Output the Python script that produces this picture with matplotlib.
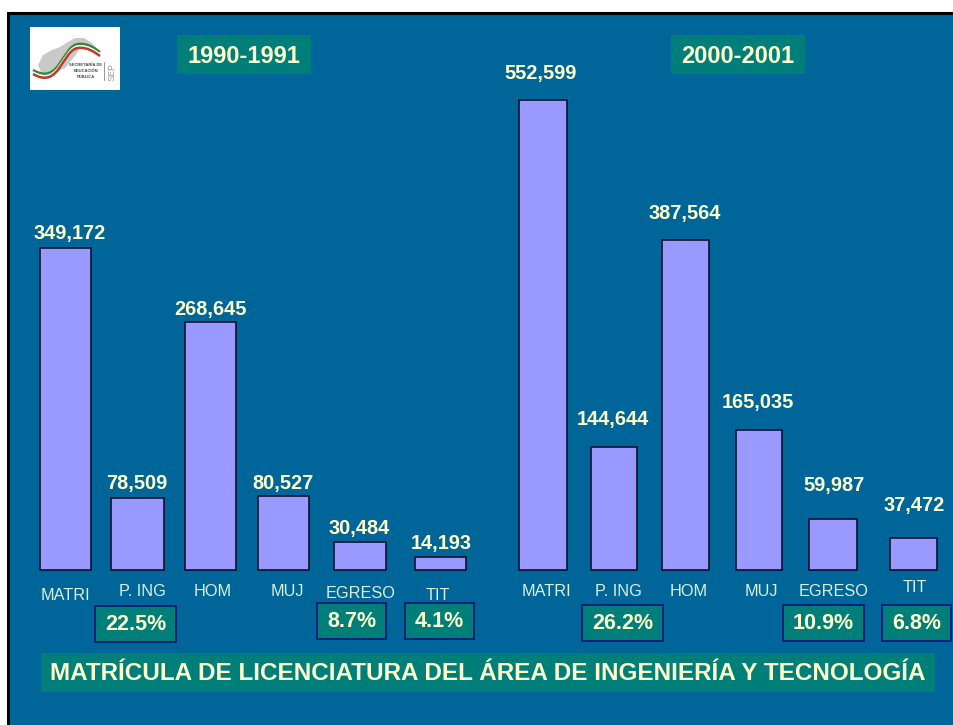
import matplotlib
matplotlib.use("Agg")
import matplotlib.pyplot as plt
from matplotlib.patches import Rectangle, Polygon
from matplotlib.path import Path
from matplotlib.patches import PathPatch

plt.rcParams['font.family'] = ['Liberation Sans', 'DejaVu Sans']

W, H = 954, 725
BLUE = '#006699'
TEAL = '#007E7A'
CREAM = '#FFFFCC'
BAR = '#9999FF'
NAVY = '#00207A'

categories = ['MATRI', 'P. ING', 'HOM', 'MUJ', 'EGRESO', 'TIT']
values_1990 = [349172, 78509, 268645, 80527, 30484, 14193]
values_2000 = [552599, 144644, 387564, 165035, 59987, 37472]
shares_1990 = ['22.5%', '8.7%', '4.1%']
shares_2000 = ['26.2%', '10.9%', '6.8%']
period_1990 = '1990-1991'
period_2000 = '2000-2001'
title = 'MATRÍCULA DE LICENCIATURA DEL ÁREA DE INGENIERÍA Y TECNOLOGÍA'

# layout, in reference pixels
left_edges_l = [40, 111, 185, 258, 334, 415]
right_edges_l = [91, 164, 236, 309, 386, 466]
left_edges_r = [519, 591, 662, 736, 809, 890]
right_edges_r = [567, 637, 709, 782, 857, 937]
label_x_l = [70, 137, 210, 283, 359, 441]
label_gap_l = [14, 14, 13, 12, 13, 13]
label_x_r = [541, 613, 685, 758, 834, 914]
label_gap_r = [26, 27, 27, 27, 33, 33]
cat_pos_l = [(65, 595), (142, 592), (213, 592), (287, 592), (361, 593), (438, 595)]
cat_pos_r = [(546, 591), (618, 591), (689, 591), (761, 591), (834, 591), (915, 587)]
box_l = [(95, 606, 176, 642), (317, 603, 386, 639), (405, 603, 474, 639)]
box_r = [(582, 605, 663, 641), (783, 605, 864, 641), (882, 605, 951, 641)]
BASE = 570
TOP = 12
PX_PER_UNIT_L = 322 / 349172
PX_PER_UNIT_R = 470 / 552599

fig = plt.figure(figsize=(W / 100, H / 100), dpi=100, facecolor='white')

# pixel-coordinate background layer
bg = fig.add_axes([0, 0, 1, 1], zorder=0)
bg.set_xlim(0, W)
bg.set_ylim(H, 0)
bg.axis('off')
bg.add_patch(Rectangle((8.5, 12.5), W + 20, H + 20, fc=BLUE, ec='black', lw=2.2))


def value_axes(scale):
    ax = fig.add_axes([0, (H - BASE) / H, 1, (BASE - TOP) / H], zorder=1)
    ax.set_xlim(0, W)
    ax.set_ylim(0, (BASE - TOP) / scale)
    ax.axis('off')
    ax.patch.set_alpha(0)
    return ax


def draw_bars(ax, vals, lefts, rights, lab_x, gaps):
    for v, l, r, lx, g in zip(vals, lefts, rights, lab_x, gaps):
        ax.bar(l, v, width=r - l, align='edge', color=BAR, edgecolor='#101030',
               linewidth=1.2, clip_on=False)
        ax.annotate(f'{v:,}', xy=(lx, v), xytext=(0, g * 0.72), textcoords='offset points',
                    ha='center', va='center', color=CREAM, fontsize=14.4,
                    fontweight='bold', annotation_clip=False)


draw_bars(value_axes(PX_PER_UNIT_L), values_1990, left_edges_l, right_edges_l, label_x_l, label_gap_l)
draw_bars(value_axes(PX_PER_UNIT_R), values_2000, left_edges_r, right_edges_r, label_x_r, label_gap_r)

# overlay layer
top = fig.add_axes([0, 0, 1, 1], zorder=2)
top.set_xlim(0, W)
top.set_ylim(H, 0)
top.axis('off')
top.patch.set_alpha(0)

for names, pos in ((categories, cat_pos_l), (categories, cat_pos_r)):
    for n, (x, y) in zip(names, pos):
        top.text(x, y, n, ha='center', va='center', color='#DDEFD8', fontsize=11.7)

for shares, boxes in ((shares_1990, box_l), (shares_2000, box_r)):
    for s, (x0, y0, x1, y1) in zip(shares, boxes):
        top.add_patch(Rectangle((x0, y0), x1 - x0, y1 - y0, fc=TEAL, ec=NAVY, lw=1.4))
        top.text((x0 + x1) / 2, (y0 + y1) / 2 + 0.8, s, ha='center', va='center',
                 color=CREAM, fontsize=15.5, fontweight='bold')

for txt, x0, x1 in ((period_1990, 177, 311), (period_2000, 671, 805)):
    top.add_patch(Rectangle((x0, 35), x1 - x0, 39, fc=TEAL, ec='none'))
    top.text((x0 + x1) / 2 - 0.5, 56, txt, ha='center', va='center', color=CREAM,
             fontsize=17, fontweight='bold')

top.add_patch(Rectangle((41, 653), 894, 39, fc=TEAL, ec='none'))
top.text(488, 674, title, ha='center', va='center', color=CREAM, fontsize=17.5, fontweight='bold')

# logo
top.add_patch(Rectangle((30, 27), 90, 63, fc='white', ec='none'))
top.add_patch(Polygon([(68, 42), (75, 38), (84, 38), (92, 43), (100, 52), (90, 47), (80, 48),
                       (75, 56), (65, 68), (56, 72), (50, 78), (42, 75), (38, 65),
                       (43, 55), (52, 50), (60, 47)], closed=True, fc='#C9C9C9', ec='none'))
for col, dy, lw in (('#2E8B3A', -2, 1.8), ('#F4F4F4', 0, 1.2), ('#C0392B', 2, 1.8)):
    verts = [(33, 72 + dy), (60, 88 + dy), (62, 48 + dy), (78, 46 + dy), (88, 45 + dy), (94, 50 + dy), (100, 54 + dy)]
    codes = [Path.MOVETO, Path.CURVE4, Path.CURVE4, Path.CURVE4, Path.CURVE4, Path.CURVE4, Path.CURVE4]
    top.add_patch(PathPatch(Path(verts, codes), fc='none', ec=col, lw=lw))
for txt, y in (('SECRETARÍA DE', 65), ('EDUCACIÓN', 71), ('PÚBLICA', 77)):
    top.text(86, y, txt, ha='center', va='center', fontsize=3, color='#444444', fontweight='bold')
top.plot([104.5, 104.5], [62, 80], color='#888888', lw=0.6)
top.text(112, 72, 'SEP', ha='center', va='center', fontsize=6.5, color='#999999', rotation=90)

fig.savefig('out.png', dpi=100, facecolor='white')
